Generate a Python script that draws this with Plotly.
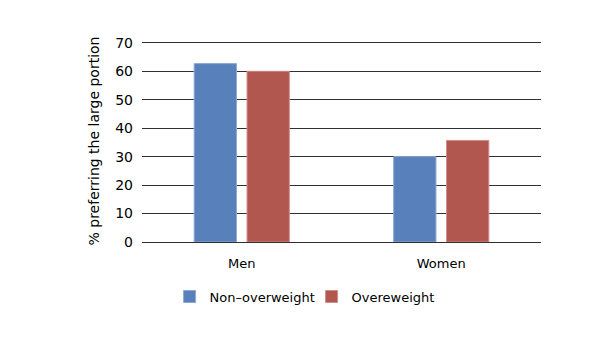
import plotly.graph_objects as go

categories = ["Men", "Women"]
non_overweight = [62.7, 30.0]
overweight = [60.0, 35.7]
y_ticks = [0, 10, 20, 30, 40, 50, 60, 70]

font = "DejaVu Sans"
fig = go.Figure()
fig.add_trace(go.Bar(x=categories, y=non_overweight, name="Non\u2013overweight",
                     marker=dict(color="#5880BA", line=dict(color="#8EA9D3", width=1))))
fig.add_trace(go.Bar(x=categories, y=overweight, name="Overeweight",
                     marker=dict(color="#B25650", line=dict(color="#D08E89", width=1))))

fig.update_layout(
    width=616, height=345,
    margin=dict(l=142, r=75, t=40, b=103),
    paper_bgcolor="white", plot_bgcolor="white",
    barmode="group", bargap=0.47, bargroupgap=0.2,
    font=dict(family=font, size=13, color="black"),
    showlegend=True,
    legend=dict(orientation="h", x=0.425, xanchor="center", y=-0.27, yanchor="middle",
                font=dict(size=13), itemwidth=30, traceorder="normal",
                entrywidth=97, entrywidthmode="pixels"),
)
fig.update_xaxes(showgrid=False, showline=False, ticks="", tickfont=dict(size=13),
                 ticklabelstandoff=12)
fig.update_yaxes(range=[0, 71], tickvals=y_ticks, showgrid=True, gridcolor="#303030",
                 gridwidth=1, zeroline=True, zerolinecolor="#303030", zerolinewidth=1,
                 showline=False, ticks="", tickfont=dict(size=14), ticklabelstandoff=8,
                 title=dict(text="% preferring the large portion", font=dict(size=14), standoff=12))

fig.write_html("out.html")
